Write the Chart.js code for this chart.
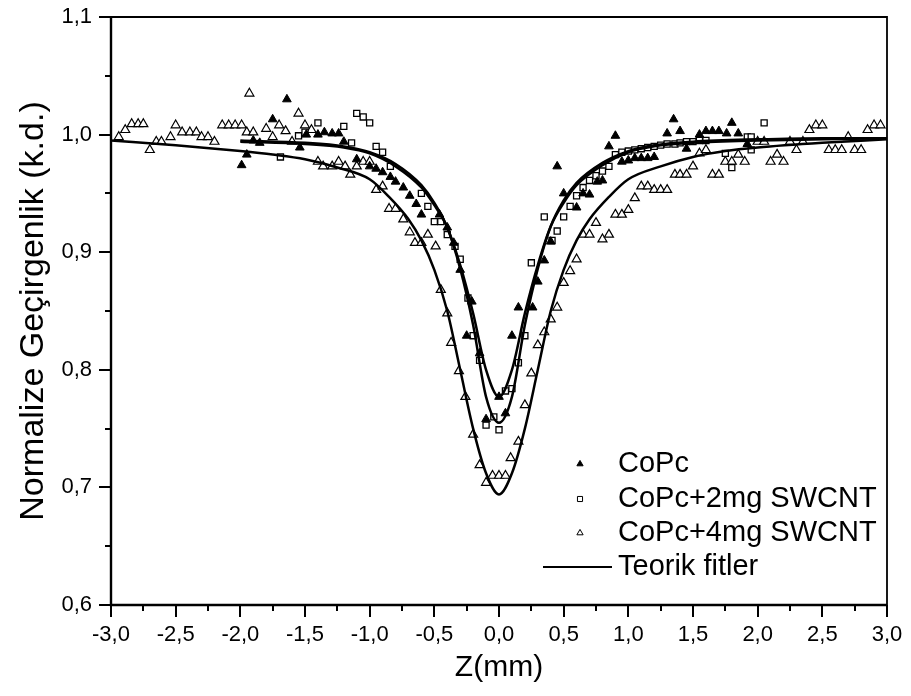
<!DOCTYPE html>
<html>
<head>
<meta charset="utf-8">
<script src="https://cdn.jsdelivr.net/npm/chart.js@4/dist/chart.umd.min.js"></script>
<style>
  html, body { margin: 0; padding: 0; background: #fff; }
  #wrap { width: 911px; height: 696px; position: relative; }
</style>
</head>
<body>
<div id="wrap"><canvas id="c"></canvas></div>
<script>
// --- Data ---

// CoPc, filled triangles
const copcX = [-1.99, -1.95, -1.90, -1.85, -1.75, -1.64, -1.54, -1.49, -1.40, -1.35, -1.29, -1.24, -1.20, -1.10, -1.00, -0.95, -0.90, -0.84, -0.80, -0.74, -0.69, -0.64, -0.60, -0.46, -0.40, -0.35, -0.30, -0.25, -0.21, -0.15, -0.10, 0.00, 0.05, 0.10, 0.15, 0.26, 0.30, 0.35, 0.40, 0.45, 0.50, 0.60, 0.65, 0.70, 0.76, 0.80, 0.85, 0.90, 0.95, 1.00, 1.05, 1.10, 1.15, 1.20, 1.30, 1.35, 1.40, 1.45, 1.55, 1.60, 1.65, 1.70, 1.76, 1.80, 1.85, 1.92];
const copcY = [0.974, 0.983, 0.995, 0.993, 1.013, 1.030, 0.989, 1.000, 1.000, 1.002, 1.001, 1.001, 0.994, 0.979, 0.973, 0.971, 0.968, 0.964, 0.960, 0.955, 0.948, 0.941, 0.932, 0.932, 0.921, 0.908, 0.885, 0.829, 0.858, 0.814, 0.758, 0.777, 0.763, 0.829, 0.853, 0.853, 0.875, 0.893, 0.909, 0.973, 0.950, 0.938, 0.950, 0.949, 0.960, 0.961, 0.990, 0.999, 0.977, 0.978, 0.980, 0.980, 0.980, 0.981, 1.001, 1.013, 1.003, 0.988, 1.000, 1.003, 1.003, 1.003, 1.001, 1.010, 1.001, 0.992];

// CoPc+2mg SWCNT, open squares
const cnt2X = [-1.69, -1.55, -1.50, -1.40, -1.20, -1.14, -1.10, -1.05, -1.00, -0.95, -0.90, -0.84, -0.60, -0.55, -0.50, -0.45, -0.40, -0.34, -0.30, -0.24, -0.20, -0.15, -0.10, -0.04, 0.00, 0.05, 0.10, 0.15, 0.20, 0.25, 0.35, 0.41, 0.45, 0.50, 0.55, 0.60, 0.65, 0.70, 0.75, 0.80, 0.85, 0.90, 0.95, 1.00, 1.05, 1.10, 1.15, 1.20, 1.25, 1.30, 1.36, 1.40, 1.45, 1.50, 1.55, 1.60, 1.75, 1.80, 1.92, 1.95, 1.95, 2.05];
const cnt2Y = [0.981, 0.999, 1.002, 1.010, 1.007, 0.993, 1.018, 1.015, 1.010, 0.990, 0.985, 0.973, 0.950, 0.939, 0.926, 0.926, 0.915, 0.905, 0.894, 0.861, 0.829, 0.808, 0.753, 0.760, 0.749, 0.782, 0.784, 0.806, 0.829, 0.891, 0.930, 0.910, 0.918, 0.930, 0.939, 0.948, 0.955, 0.961, 0.965, 0.969, 0.973, 0.983, 0.985, 0.986, 0.987, 0.988, 0.989, 0.990, 0.991, 0.992, 0.992, 0.993, 0.994, 0.994, 0.995, 0.995, 0.984, 0.972, 0.998, 0.998, 0.987, 1.010];

// CoPc+4mg SWCNT, open triangles
const cnt4X = [-2.94, -2.89, -2.84, -2.79, -2.75, -2.70, -2.65, -2.61, -2.54, -2.50, -2.45, -2.39, -2.34, -2.30, -2.25, -2.20, -2.14, -2.09, -2.04, -1.99, -1.95, -1.93, -1.90, -1.80, -1.75, -1.70, -1.65, -1.60, -1.55, -1.50, -1.45, -1.40, -1.36, -1.29, -1.24, -1.19, -1.15, -1.10, -1.05, -1.00, -0.95, -0.90, -0.85, -0.80, -0.74, -0.69, -0.65, -0.60, -0.55, -0.49, -0.45, -0.40, -0.37, -0.31, -0.26, -0.20, -0.15, -0.10, -0.05, 0.00, 0.05, 0.09, 0.15, 0.20, 0.25, 0.30, 0.35, 0.40, 0.45, 0.50, 0.55, 0.60, 0.65, 0.70, 0.75, 0.80, 0.85, 0.90, 0.95, 1.00, 1.05, 1.10, 1.15, 1.20, 1.25, 1.30, 1.36, 1.40, 1.45, 1.50, 1.55, 1.60, 1.65, 1.70, 1.75, 1.80, 1.85, 1.90, 2.00, 2.05, 2.10, 2.15, 2.20, 2.25, 2.30, 2.35, 2.40, 2.45, 2.50, 2.55, 2.60, 2.65, 2.70, 2.75, 2.80, 2.85, 2.90, 2.95];
const cnt4Y = [0.998, 1.004, 1.009, 1.009, 1.009, 0.987, 0.994, 0.994, 0.998, 1.008, 1.002, 1.002, 1.002, 0.998, 0.998, 0.994, 1.008, 1.008, 1.008, 1.008, 1.002, 1.035, 1.002, 1.005, 0.998, 1.008, 1.003, 0.994, 1.018, 1.008, 1.004, 0.977, 0.973, 0.973, 0.977, 0.973, 0.966, 0.973, 0.977, 0.977, 0.953, 0.956, 0.937, 0.937, 0.928, 0.917, 0.908, 0.908, 0.915, 0.905, 0.868, 0.848, 0.823, 0.799, 0.777, 0.745, 0.719, 0.704, 0.710, 0.710, 0.710, 0.725, 0.739, 0.770, 0.797, 0.821, 0.832, 0.843, 0.853, 0.874, 0.884, 0.894, 0.915, 0.915, 0.925, 0.911, 0.915, 0.932, 0.932, 0.936, 0.946, 0.956, 0.956, 0.953, 0.953, 0.953, 0.966, 0.966, 0.966, 0.973, 0.984, 0.987, 0.966, 0.966, 0.977, 0.977, 0.983, 0.977, 0.994, 0.994, 0.977, 0.983, 0.977, 0.994, 0.987, 0.994, 1.004, 1.008, 1.008, 0.987, 0.987, 0.987, 0.998, 0.987, 0.987, 1.004, 1.008, 1.008];

// Theoretical fits (Teorik fitler)
const fitCopcX = [-2.0, -1.5, -1.2, -1.0, -0.8, -0.6, -0.5, -0.4, -0.3, -0.2, -0.1, 0.0, 0.1, 0.2, 0.3, 0.4, 0.5, 0.6, 0.8, 1.0, 1.2, 1.5, 2.0, 2.5, 3.0];
const fitCopcY = [0.994, 0.992, 0.989, 0.984, 0.973, 0.955, 0.940, 0.921, 0.889, 0.848, 0.800, 0.777, 0.800, 0.848, 0.889, 0.922, 0.942, 0.957, 0.974, 0.985, 0.990, 0.993, 0.995, 0.996, 0.997];
const fit2X = [-2.0, -1.5, -1.2, -1.0, -0.8, -0.6, -0.5, -0.4, -0.3, -0.2, -0.1, 0.0, 0.1, 0.2, 0.3, 0.4, 0.5, 0.6, 0.8, 1.0, 1.2, 1.5, 2.0, 2.5, 3.0];
const fit2Y = [0.995, 0.993, 0.990, 0.985, 0.975, 0.957, 0.942, 0.921, 0.886, 0.838, 0.777, 0.755, 0.777, 0.838, 0.886, 0.922, 0.944, 0.959, 0.976, 0.986, 0.991, 0.994, 0.996, 0.997, 0.997];
const fit4X = [-3.0, -2.5, -2.0, -1.75, -1.5, -1.25, -1.0, -0.85, -0.7, -0.6, -0.5, -0.4, -0.3, -0.2, -0.1, 0.0, 0.1, 0.2, 0.3, 0.4, 0.5, 0.6, 0.7, 0.85, 1.0, 1.25, 1.5, 1.75, 2.0, 2.5, 3.0];
const fit4Y = [0.995, 0.991, 0.986, 0.983, 0.979, 0.972, 0.962, 0.947, 0.928, 0.910, 0.885, 0.850, 0.800, 0.750, 0.712, 0.694, 0.712, 0.750, 0.800, 0.850, 0.885, 0.910, 0.928, 0.947, 0.962, 0.973, 0.981, 0.986, 0.989, 0.993, 0.996];

const legendLabels = ['CoPc', 'CoPc+2mg SWCNT', 'CoPc+4mg SWCNT', 'Teorik fitler'];

const xMin = -3, xMax = 3, xStep = 0.5;
const yMin = 0.6, yMax = 1.1, yStep = 0.1;

// --- helpers ---
const pts = (xs, ys) => xs.map((x, i) => ({ x: x, y: ys[i] }));
const comma = v => v.toFixed(1).replace('.', ',');
const FONT = "'Liberation Sans', Arial, sans-serif";

function fitSet(xs, ys) {
    return {
        data: pts(xs, ys),
        showLine: true,
        borderColor: '#000',
        borderWidth: 2.5,
        pointRadius: 0,
        cubicInterpolationMode: 'monotone',
        fill: false
    };
}

const markerStyles = [
    { pointStyle: 'triangle', pointRadius: 5, backgroundColor: '#000', borderColor: '#000', borderWidth: 1 },
    { pointStyle: 'rect', pointRadius: 4.3, backgroundColor: '#fff', borderColor: '#000', borderWidth: 1.3 },
    { pointStyle: 'triangle', pointRadius: 5.2, backgroundColor: '#fff', borderColor: '#000', borderWidth: 1.2 }
];

// frame + outward ticks (major and minor)
const framePlugin = {
    id: 'frame',
    afterDraw(chart) {
        const { ctx, chartArea: a, scales } = chart;
        const sx = scales.x, sy = scales.y;
        ctx.save();
        ctx.strokeStyle = '#000';
        ctx.lineWidth = 2;
        ctx.beginPath();
        for (let i = 0; i <= 24; i++) {
            const v = xMin + i * 0.25;
            const px = Math.round(sx.getPixelForValue(v));
            ctx.moveTo(px, a.bottom);
            ctx.lineTo(px, a.bottom + (i % 2 === 0 ? 12 : 6));
        }
        for (let i = 0; i <= 10; i++) {
            const v = yMin + i * 0.05;
            const py = Math.round(sy.getPixelForValue(v));
            ctx.moveTo(a.left, py);
            ctx.lineTo(a.left - (i % 2 === 0 ? 12 : 6), py);
        }
        ctx.stroke();
        ctx.lineWidth = 1.8;
        ctx.beginPath();
        ctx.moveTo(a.left, a.top);
        ctx.lineTo(a.right, a.top);
        ctx.lineTo(a.right, a.bottom);
        ctx.stroke();
        ctx.lineWidth = 2.4;
        ctx.beginPath();
        ctx.moveTo(a.left, a.top);
        ctx.lineTo(a.left, a.bottom);
        ctx.lineTo(a.right, a.bottom);
        ctx.stroke();
        ctx.restore();
    }
};

// legend inside the plot, lower right
const legendPlugin = {
    id: 'insideLegend',
    afterDraw(chart) {
        const { ctx, chartArea: a } = chart;
        const symX = a.left + 469, txtX = a.left + 507;
        const rows = [a.top + 447, a.top + 482, a.top + 516, a.top + 550];
        ctx.save();
        ctx.font = '29px ' + FONT;
        ctx.fillStyle = '#000';
        ctx.textBaseline = 'middle';
        ctx.textAlign = 'left';
        for (let i = 0; i < 3; i++) {
            const m = markerStyles[i];
            ctx.fillStyle = m.backgroundColor;
            ctx.strokeStyle = m.borderColor;
            ctx.lineWidth = 1;
            Chart.helpers.drawPoint(ctx, { pointStyle: m.pointStyle, radius: 3.6, borderWidth: 1 }, symX, rows[i]);
            ctx.fillStyle = '#000';
            ctx.fillText(legendLabels[i], txtX, rows[i]);
        }
        ctx.strokeStyle = '#000';
        ctx.lineWidth = 2;
        ctx.beginPath();
        ctx.moveTo(a.left + 432, rows[3]);
        ctx.lineTo(a.left + 501, rows[3]);
        ctx.stroke();
        ctx.fillText(legendLabels[3], txtX, rows[3]);
        ctx.restore();
    }
};

new Chart(document.getElementById('c'), {
    type: 'scatter',
    data: {
        datasets: [
            fitSet(fitCopcX, fitCopcY),
            fitSet(fit2X, fit2Y),
            fitSet(fit4X, fit4Y),
            Object.assign({ label: legendLabels[0], data: pts(copcX, copcY) }, markerStyles[0]),
            Object.assign({ label: legendLabels[1], data: pts(cnt2X, cnt2Y) }, markerStyles[1]),
            Object.assign({ label: legendLabels[2], data: pts(cnt4X, cnt4Y) }, markerStyles[2])
        ]
    },
    options: {
        responsive: true,
        maintainAspectRatio: false,
        animation: false,
        layout: { padding: { left: 0, right: 24, top: 17, bottom: 10 } },
        plugins: {
            legend: { display: false },
            tooltip: { enabled: false }
        },
        scales: {
            x: {
                type: 'linear',
                min: xMin, max: xMax,
                grid: { display: false, drawTicks: false },
                border: { display: false },
                ticks: {
                    stepSize: xStep,
                    padding: 17,
                    color: '#000',
                    font: { family: FONT, size: 22 },
                    maxRotation: 0,
                    callback: v => comma(v)
                },
                title: {
                    display: true,
                    text: 'Z(mm)',
                    color: '#000',
                    font: { family: FONT, size: 30 },
                    padding: { top: 0, bottom: 0 }
                },
                afterFit(scale) {
                    scale.height = 81;
                    scale.paddingLeft = 0;
                    scale.paddingRight = 0;
                }
            },
            y: {
                type: 'linear',
                min: yMin, max: yMax,
                grid: { display: false, drawTicks: false },
                border: { display: false },
                ticks: {
                    stepSize: yStep,
                    padding: 19,
                    color: '#000',
                    font: { family: FONT, size: 22 },
                    callback: v => comma(v)
                },
                title: {
                    display: true,
                    text: 'Normalize Geçirgenlik (k.d.)',
                    color: '#000',
                    font: { family: FONT, size: 34 },
                    padding: { top: 13, bottom: 0 }
                },
                afterFit(scale) {
                    scale.width = 111;
                    scale.paddingTop = 0;
                    scale.paddingBottom = 0;
                }
            }
        }
    },
    plugins: [framePlugin, legendPlugin]
});
</script>
</body>
</html>
